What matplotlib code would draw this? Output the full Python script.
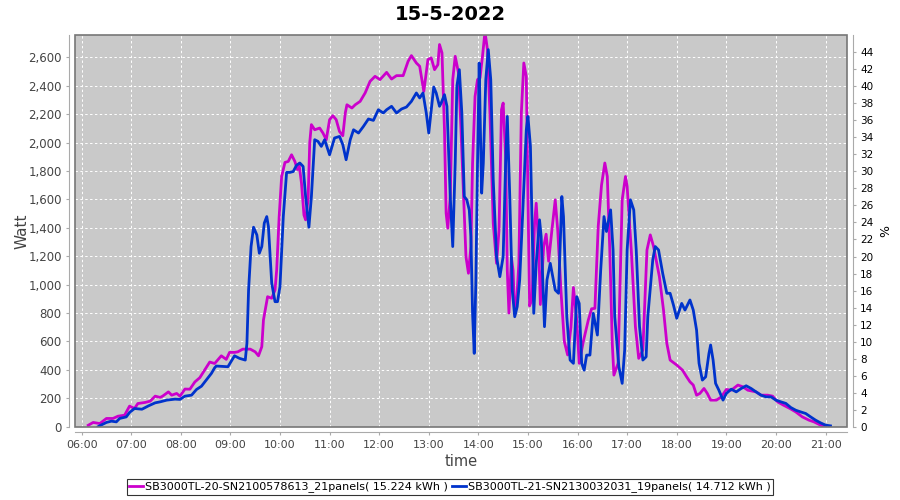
import matplotlib
matplotlib.use('Agg')
import matplotlib.pyplot as plt
import matplotlib.dates as mdates
from matplotlib.ticker import FuncFormatter, MultipleLocator, FixedLocator
from matplotlib.patches import Rectangle
import pandas as pd

day = '2022-05-15 '
title = '15-5-2022'
name_20 = 'SB3000TL-20-SN2100578613_21panels( 15.224 kWh )'
name_21 = 'SB3000TL-21-SN2130032031_19panels( 14.712 kWh )'
pct_ticks = list(range(0, 45, 2))

# SB3000TL-20 (magenta)
pink_time = ['06:08', '06:14', '06:22', '06:30', '06:38', '06:44', '06:52', '06:58', '07:04', '07:08',
             '07:17', '07:23', '07:29', '07:35', '07:38', '07:45', '07:49', '07:55', '07:59', '08:05',
             '08:11', '08:17', '08:23', '08:29', '08:35', '08:41', '08:49', '08:55', '08:59', '09:05',
             '09:09', '09:15', '09:24', '09:30', '09:34', '09:38', '09:40', '09:45', '09:50', '09:54',
             '09:56', '09:59', '10:02', '10:06', '10:10', '10:14', '10:18', '10:21', '10:23', '10:26',
             '10:29', '10:31', '10:34', '10:36', '10:38', '10:42', '10:48', '10:52', '10:56', '11:00',
             '11:04', '11:08', '11:12', '11:16', '11:19', '11:21', '11:27', '11:31', '11:37', '11:43',
             '11:49', '11:55', '12:01', '12:09', '12:15', '12:21', '12:29', '12:35', '12:39', '12:45',
             '12:49', '12:54', '12:59', '13:03', '13:07', '13:11', '13:13', '13:16', '13:19', '13:21',
             '13:23', '13:26', '13:29', '13:32', '13:36', '13:39', '13:42', '13:45', '13:48', '13:51',
             '13:53', '13:56', '13:59', '14:02', '14:05', '14:08', '14:11', '14:14', '14:18', '14:22',
             '14:25', '14:28', '14:30', '14:33', '14:35', '14:37', '14:40', '14:42', '14:44', '14:46',
             '14:49', '14:52', '14:55', '14:58', '15:00', '15:02', '15:05', '15:08', '15:10', '15:13',
             '15:15', '15:19', '15:22', '15:25', '15:29', '15:33', '15:36', '15:40', '15:44', '15:48',
             '15:52', '15:55', '15:59', '16:02', '16:07', '16:13', '16:17', '16:21', '16:25', '16:29',
             '16:33', '16:36', '16:39', '16:42', '16:44', '16:49', '16:54', '16:58', '17:00', '17:05',
             '17:10', '17:14', '17:19', '17:21', '17:24', '17:28', '17:32', '17:39', '17:44', '17:48',
             '17:52', '18:00', '18:07', '18:12', '18:16', '18:20', '18:24', '18:28', '18:33', '18:37',
             '18:41', '18:48', '18:54', '19:00', '19:06', '19:14', '19:20', '19:26', '19:36', '19:42',
             '19:50', '19:56', '20:02', '20:09', '20:17', '20:24', '20:32', '20:40', '20:46', '20:54',
             '21:00']
pink_watt = [10, 30, 22, 58, 58, 74, 81, 145, 128, 163,
             171, 180, 215, 206, 215, 245, 222, 234, 215, 265,
             264, 315, 345, 400, 455, 445, 499, 474, 523, 523,
             527, 546, 546, 527, 499, 563, 751, 915, 904, 962,
             1103, 1479, 1761, 1860, 1867, 1914, 1867, 1810, 1850, 1715,
             1490, 1456, 1600, 2000, 2126, 2090, 2102, 2067, 2020, 2161,
             2189, 2161, 2078, 2048, 2208, 2266, 2243, 2266, 2290, 2349,
             2431, 2466, 2443, 2494, 2447, 2471, 2471, 2572, 2612, 2560,
             2537, 2360, 2584, 2596, 2513, 2548, 2690, 2631, 2090, 1503,
             1397, 1620, 2443, 2607, 2490, 2090, 1644, 1197, 1080, 1268,
             1856, 2325, 2443, 2455, 2607, 2780, 2654, 2208, 1432, 1150,
             1385, 2231, 2278, 1900, 1100, 800, 1190, 1100, 790, 850,
             1150, 2208, 2560, 2466, 1620, 850, 900, 1432, 1573, 1268,
             860, 1268, 1355, 1165, 1385, 1597, 1385, 950, 600, 505,
             700, 980, 751, 446, 600, 750, 830, 833, 1409, 1700,
             1856, 1761, 1244, 587, 363, 446, 1597, 1761, 1691, 1244,
             704, 481, 539, 821, 1244, 1350, 1268, 1056, 821, 587,
             469, 434, 398, 351, 316, 293, 222, 234, 269, 234,
             187, 187, 210, 262, 257, 293, 281, 257, 245, 222,
             222, 215, 175, 152, 128, 104, 69, 46, 34, 11,
             0]

# SB3000TL-21 (blue)
blue_time = ['06:20', '06:23', '06:30', '06:36', '06:42', '06:46', '06:54', '06:58', '07:04', '07:13',
             '07:21', '07:29', '07:35', '07:43', '07:53', '07:59', '08:05', '08:13', '08:19', '08:25',
             '08:31', '08:37', '08:41', '08:43', '08:57', '09:05', '09:11', '09:18', '09:20', '09:22',
             '09:25', '09:28', '09:32', '09:35', '09:38', '09:41', '09:44', '09:46', '09:50', '09:54',
             '09:57', '10:00', '10:04', '10:08', '10:12', '10:16', '10:20', '10:24', '10:28', '10:31',
             '10:35', '10:38', '10:42', '10:46', '10:50', '10:54', '11:00', '11:06', '11:12', '11:16',
             '11:20', '11:25', '11:29', '11:35', '11:41', '11:47', '11:53', '11:59', '12:05', '12:09',
             '12:15', '12:21', '12:27', '12:33', '12:39', '12:45', '12:49', '12:53', '12:57', '13:00',
             '13:03', '13:06', '13:09', '13:13', '13:15', '13:19', '13:22', '13:26', '13:29', '13:32',
             '13:34', '13:37', '13:40', '13:43', '13:46', '13:49', '13:51', '13:53', '13:55', '13:57',
             '13:59', '14:01', '14:02', '14:04', '14:06', '14:09', '14:12', '14:15', '14:18', '14:22',
             '14:26', '14:30', '14:33', '14:35', '14:38', '14:41', '14:44', '14:47', '14:50', '14:54',
             '14:58', '15:00', '15:03', '15:06', '15:07', '15:10', '15:14', '15:16', '15:20', '15:23',
             '15:27', '15:33', '15:37', '15:41', '15:43', '15:47', '15:51', '15:55', '15:59', '16:02',
             '16:05', '16:08', '16:11', '16:15', '16:19', '16:24', '16:28', '16:32', '16:35', '16:40',
             '16:43', '16:45', '16:50', '16:54', '16:57', '17:00', '17:04', '17:08', '17:11', '17:15',
             '17:19', '17:23', '17:25', '17:31', '17:34', '17:38', '17:43', '17:48', '17:52', '17:56',
             '18:00', '18:06', '18:10', '18:16', '18:20', '18:24', '18:27', '18:31', '18:35', '18:39',
             '18:41', '18:44', '18:47', '18:51', '18:56', '19:00', '19:06', '19:12', '19:18', '19:24',
             '19:30', '19:36', '19:42', '19:48', '19:54', '20:00', '20:06', '20:12', '20:18', '20:24',
             '20:30', '20:36', '20:42', '20:48', '20:54', '21:00', '21:06']
blue_watt = [0, 10, 30, 39, 34, 58, 69, 100, 128, 123,
             147, 168, 175, 187, 194, 192, 215, 222, 262, 285,
             330, 375, 415, 427, 422, 499, 481, 469, 587, 962,
             1268, 1404, 1350, 1221, 1268, 1433, 1479, 1409, 1010, 880,
             880, 986, 1479, 1790, 1790, 1796, 1840, 1856, 1832, 1620,
             1404, 1620, 2020, 2008, 1973, 2020, 1914, 2032, 2043, 1985,
             1879, 2020, 2090, 2067, 2114, 2166, 2156, 2231, 2208, 2231,
             2255, 2208, 2236, 2250, 2290, 2349, 2314, 2349, 2208, 2067,
             2231, 2391, 2349, 2255, 2278, 2337, 2255, 1620, 1268, 1856,
             2396, 2513, 2208, 1620, 1597, 1526, 1338, 798, 516, 1033,
             1856, 2560, 2231, 1644, 1856, 2443, 2654, 2443, 1738, 1197,
             1056, 1197, 1856, 2184, 1620, 962, 774, 845, 1033, 1550,
             2090, 2184, 1973, 1150, 798, 1150, 1456, 1338, 704, 1033,
             1150, 962, 939, 1620, 1479, 774, 469, 446, 915, 868,
             446, 398, 504, 504, 798, 645, 1100, 1479, 1374, 1526,
             1244, 774, 422, 305, 539, 1244, 1597, 1526, 1244, 704,
             469, 492, 774, 1174, 1268, 1244, 1080, 939, 939, 857,
             763, 868, 821, 892, 821, 680, 446, 328, 351, 516,
             575, 469, 305, 257, 187, 234, 264, 245, 269, 288,
             269, 245, 222, 210, 210, 187, 175, 164, 135, 116,
             104, 93, 69, 46, 27, 11, 6]

t20 = pd.to_datetime([day + s for s in pink_time])
t21 = pd.to_datetime([day + s for s in blue_time])

fig = plt.figure(figsize=(9, 5), dpi=100)
ax = fig.add_axes([75 / 900, 1 - 426.7 / 500, 772 / 900, 391.7 / 500])
ax.set_facecolor('#c9c9c9')
l1, = ax.plot(t20, pink_watt, color='#cc00cc', lw=2.0, zorder=3)
l2, = ax.plot(t21, blue_watt, color='#0033cc', lw=2.0, zorder=3)

ax.set_xlim(pd.Timestamp(day + '05:52'), pd.Timestamp(day + '21:26'))
ax.set_ylim(0, 2757)
ax.yaxis.set_major_locator(MultipleLocator(200))
ax.yaxis.set_major_formatter(FuncFormatter(lambda v, p: f'{int(v):,}'))
ax.xaxis.set_major_locator(mdates.HourLocator())
ax.xaxis.set_major_formatter(mdates.DateFormatter('%H:%M'))
ax.grid(True, color='white', ls=(0, (2.5, 2.5)), lw=0.7)
ax.set_axisbelow(True)
ax.tick_params(axis='both', labelsize=8.5, colors='#aaaaaa', labelcolor='#444444', length=2, width=0.8)
ax.tick_params(axis='x', labelsize=8)
for s in ['top', 'right']:
    ax.spines[s].set_visible(False)
for s in ['left', 'bottom']:
    ax.spines[s].set_position(('outward', 4))
    ax.spines[s].set_color('#aaaaaa')
ax.add_patch(Rectangle((0, 0), 1, 1, transform=ax.transAxes, fill=False,
                       ec='#777777', lw=1.2, clip_on=False, zorder=5))
ax.set_ylabel('Watt', fontsize=11, color='#444444', labelpad=-1)
ax.set_xlabel('time', fontsize=10.5, color='#444444', labelpad=3)

ax2 = ax.twinx()
ax2.set_ylim(0, 46.03)
ax2.yaxis.set_major_locator(FixedLocator(pct_ticks))
for s in ['top', 'left', 'bottom']:
    ax2.spines[s].set_visible(False)
ax2.spines['right'].set_position(('outward', 4))
ax2.spines['right'].set_color('#aaaaaa')
ax2.tick_params(axis='y', labelsize=7.5, colors='#aaaaaa', labelcolor='black', length=2, width=0.8)
ax2.set_ylabel('%', fontsize=9, labelpad=4)

fig.text(0.5, 1 - 14 / 500, title, ha='center', va='center', fontsize=14, weight='bold')

leg = fig.legend([l1, l2], [name_20, name_21], loc='center', bbox_to_anchor=(450 / 900, 1 - 487 / 500),
                 ncol=2, fontsize=8, frameon=True, fancybox=False, edgecolor='black',
                 handlelength=1.2, handletextpad=0.2, columnspacing=0.4, borderpad=0.25)
leg.get_frame().set_linewidth(0.8)

fig.savefig('out.png', dpi=100)
